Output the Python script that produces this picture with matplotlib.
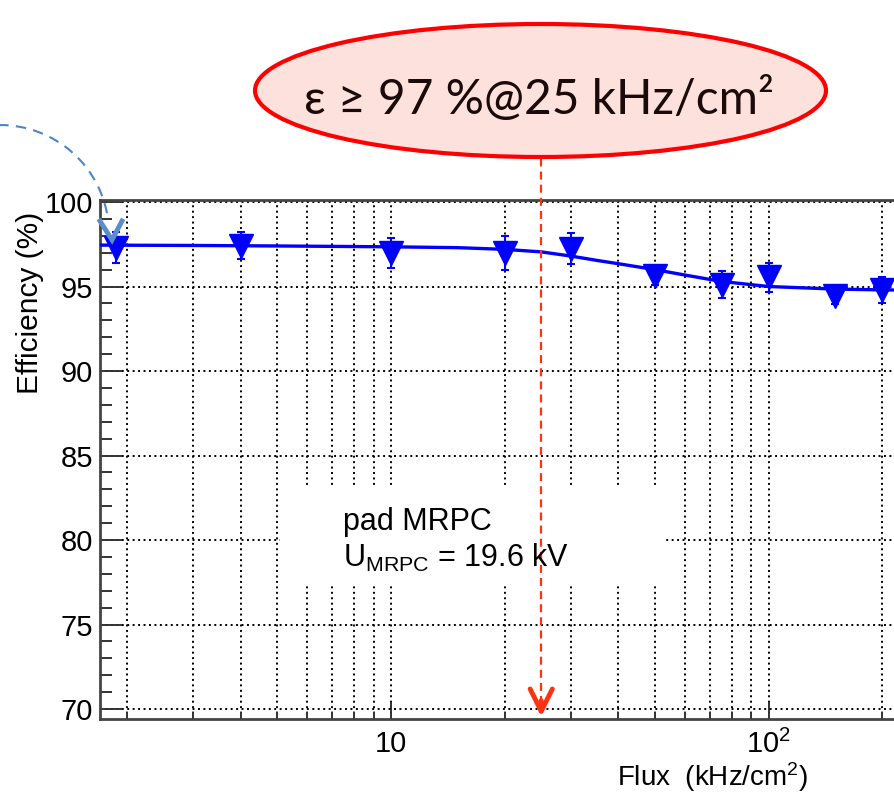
import matplotlib
matplotlib.use("Agg")
import matplotlib.pyplot as plt
from matplotlib.patches import Ellipse, Arc, Rectangle
from matplotlib.lines import Line2D
from matplotlib.ticker import FixedLocator, FixedFormatter, LogLocator, NullFormatter, MultipleLocator

plt.rcParams['font.family'] = ['Liberation Sans', 'DejaVu Sans']
plt.rcParams['mathtext.fontset'] = 'custom'
plt.rcParams['mathtext.rm'] = 'Liberation Sans'
plt.rcParams['mathtext.it'] = 'Liberation Sans:italic'

# --- data ---
flux = [1.87, 4, 10, 20, 30, 50, 75, 100, 150, 200]
eff = [97.3, 97.4, 97.0, 97.0, 97.25, 95.6, 95.1, 95.55, 94.45, 94.8]
eff_err = [0.9, 0.8, 0.9, 1.0, 0.9, 0.5, 0.8, 0.85, 0.5, 0.75]

fit_flux = [1.7, 3, 5, 10, 15, 20, 25, 30, 35, 40, 50, 60, 75, 100, 150, 200, 280]
fit_eff = [97.45, 97.43, 97.4, 97.35, 97.3, 97.2, 97.05, 96.8, 96.55, 96.35,
           96.0, 95.68, 95.3, 95.0, 94.85, 94.8, 94.78]

y_ticks = [70, 75, 80, 85, 90, 95, 100]
x_ticks = [10, 100]
x_tick_labels = ['10', '10$^2$']

ARROW_FLUX = 25          # the "@25 kHz/cm2" marker
ANNOT = "ε ≥ 97 %@25 kHz/cm²"

W, H = 894, 793
fig = plt.figure(figsize=(W / 100, H / 100), dpi=100)


def fx(x):
    return x / W


def fy(y):
    return 1 - y / H


def inch(x, y):
    # image pixel (y down) -> figure inches (y up)
    return x / 100, (H - y) / 100


# axes runs past the right edge of the picture, like the cropped slide
ax = fig.add_axes([fx(100), fy(719), fx(940) - fx(100), fy(200) - fy(719)])
ax.set_xscale('log')
ax.set_xlim(1.699, 284)
ax.set_ylim(69.41, 100.12)
ax.set_axisbelow(True)

ax.xaxis.set_major_locator(FixedLocator(x_ticks))
ax.xaxis.set_major_formatter(FixedFormatter(x_tick_labels))
ax.xaxis.set_minor_locator(LogLocator(base=10, subs=range(2, 10), numticks=20))
ax.xaxis.set_minor_formatter(NullFormatter())
ax.yaxis.set_major_locator(FixedLocator(y_ticks))
ax.yaxis.set_minor_locator(MultipleLocator(1))

grid_style = dict(color='black', linestyle=(0, (1, 1.8)), linewidth=1.4)
ax.grid(True, which='both', axis='x', **grid_style)
ax.grid(True, which='major', axis='y', **grid_style)

ax.tick_params(axis='y', which='major', direction='in', length=16, width=1.4,
               labelsize=21, pad=5, color='#333333')
ax.tick_params(axis='y', which='minor', direction='in', length=8.5, width=1.4, color='#333333')
ax.tick_params(axis='x', which='major', direction='in', length=12, width=1.4,
               labelsize=21, pad=8, color='#333333')
ax.tick_params(axis='x', which='minor', direction='in', length=5, width=1.4, color='#333333')
for side in ['left', 'bottom', 'top']:
    ax.spines[side].set_color('#444444')
    ax.spines[side].set_linewidth(2)
ax.spines['right'].set_visible(False)

# white pave behind the label text
ax.add_patch(Rectangle(inch(280, 585), 3.86, 0.98, transform=fig.dpi_scale_trans,
                       facecolor='white', edgecolor='none', zorder=1))

# fit curve and measured points
ax.plot(fit_flux, fit_eff, color='#0000ff', linewidth=2.4, zorder=3)
ax.errorbar(flux, eff, yerr=eff_err, fmt='v', color='#0000ff', markersize=17,
            elinewidth=1.5, capsize=3, capthick=1.5, zorder=4)

# text in the plot
fig.text(fx(343), fy(530), 'pad MRPC', fontsize=22, ha='left', va='baseline', zorder=5)
fig.text(fx(343), fy(567), 'U$_{\\mathrm{MRPC}}$ = 19.6 kV', fontsize=22,
         ha='left', va='baseline', zorder=5)

# axis titles
fig.text(fx(30), fy(303), 'Efficiency (%)', fontsize=21.5, rotation=90, ha='center', va='center')
fig.text(fx(808), fy(786), 'Flux  (kHz/cm$^2$)', fontsize=20, ha='right', va='baseline')

# red dashed arrow down to the flux axis at 25 kHz/cm2
ax.plot([ARROW_FLUX, ARROW_FLUX], [70.3, 102.7], color='#ff3311', linewidth=1.6,
        dashes=(3.6, 2.3), clip_on=False, zorder=6)
ax.annotate('', xy=(ARROW_FLUX, 69.55), xytext=(ARROW_FLUX, 70.5),
            arrowprops=dict(arrowstyle='->,head_length=0.8,head_width=0.4',
                            color='#ff3311', lw=3.5, mutation_scale=20,
                            shrinkA=0, shrinkB=0),
            annotation_clip=False, zorder=6)

# red callout ellipse
fig.add_artist(Ellipse(inch(540.5, 90.5), 5.71, 1.33, transform=fig.dpi_scale_trans,
                       facecolor='#fde1dd', edgecolor='#ff0000', linewidth=3))
fig.text(fx(538.5), fy(114), ANNOT, fontsize=34.5, color='#1a0a0a',
         family=['Lato', 'DejaVu Sans'], ha='center', va='baseline')

# blue dashed arc with open arrow head at top left
fig.add_artist(Arc(inch(0, 234), 2.18, 2.18, theta1=11, theta2=180,
                   transform=fig.dpi_scale_trans, color='#4a86c8', linewidth=1.5,
                   linestyle=(0, (5, 3.5))))
vx = [100 / 100, 112 / 100, 122 / 100]
vy = [(H - 221) / 100, (H - 240) / 100, (H - 221) / 100]
fig.add_artist(Line2D(vx, vy, transform=fig.dpi_scale_trans, color='#5b8ec8',
                      linewidth=3.5, solid_joinstyle='miter'))

fig.savefig('out.png', dpi=100)
